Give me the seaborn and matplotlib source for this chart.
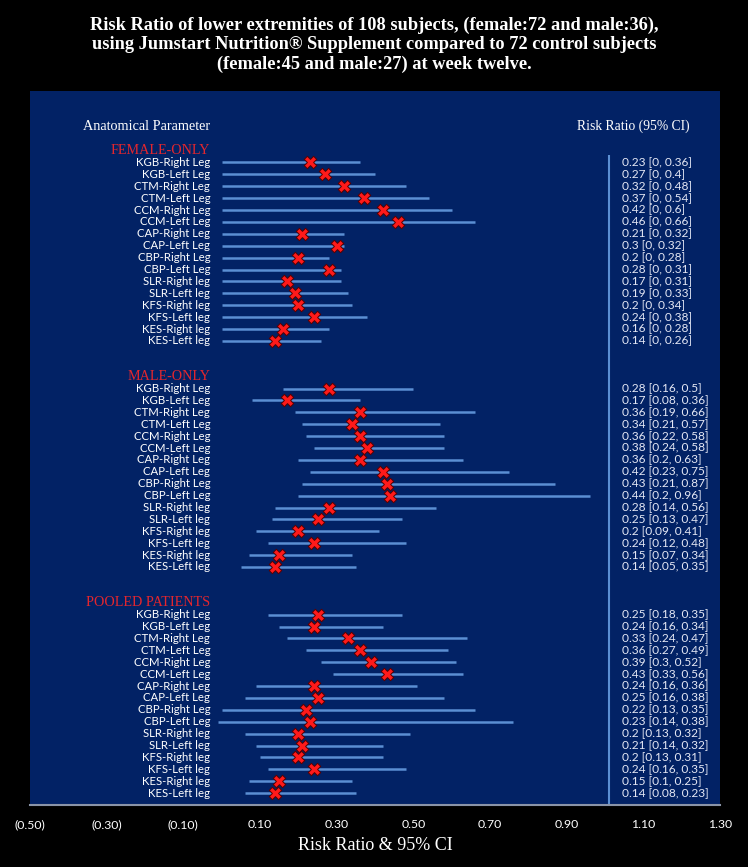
import numpy as np
import pandas as pd
import matplotlib
matplotlib.use("Agg")
import matplotlib.pyplot as plt
import seaborn as sns


# anatomical parameters, same order in each group
params = ["KGB-Right Leg", "KGB-Left Leg", "CTM-Right Leg", "CTM-Left Leg",
          "CCM-Right Leg", "CCM-Left Leg", "CAP-Right Leg", "CAP-Left Leg",
          "CBP-Right Leg", "CBP-Left Leg", "SLR-Right leg", "SLR-Left leg",
          "KFS-Right leg", "KFS-Left leg", "KES-Right leg", "KES-Left leg"]

groups = ["FEMALE-ONLY", "MALE-ONLY", "POOLED PATIENTS"]

female_rr = [0.23, 0.27, 0.32, 0.37, 0.42, 0.46, 0.21, 0.30,
             0.20, 0.28, 0.17, 0.19, 0.20, 0.24, 0.16, 0.14]
female_lo = [0, 0, 0, 0, 0, 0, 0, 0, 0, 0, 0, 0, 0, 0, 0, 0]
female_hi = [0.36, 0.40, 0.48, 0.54, 0.60, 0.66, 0.32, 0.32,
             0.28, 0.31, 0.31, 0.33, 0.34, 0.38, 0.28, 0.26]
female_txt = ["0.23 [0, 0.36]", "0.27 [0, 0.4]", "0.32 [0, 0.48]", "0.37 [0, 0.54]",
              "0.42 [0, 0.6]", "0.46 [0, 0.66]", "0.21 [0, 0.32]", "0.3 [0, 0.32]",
              "0.2 [0, 0.28]", "0.28 [0, 0.31]", "0.17 [0, 0.31]", "0.19 [0, 0.33]",
              "0.2 [0, 0.34]", "0.24 [0, 0.38]", "0.16 [0, 0.28]", "0.14 [0, 0.26]"]

male_rr = [0.28, 0.17, 0.36, 0.34, 0.36, 0.38, 0.36, 0.42,
           0.43, 0.44, 0.28, 0.25, 0.20, 0.24, 0.15, 0.14]
male_lo = [0.16, 0.08, 0.19, 0.21, 0.22, 0.24, 0.20, 0.23,
           0.21, 0.20, 0.14, 0.13, 0.09, 0.12, 0.07, 0.05]
male_hi = [0.50, 0.36, 0.66, 0.57, 0.58, 0.58, 0.63, 0.75,
           0.87, 0.96, 0.56, 0.47, 0.41, 0.48, 0.34, 0.35]
male_txt = ["0.28 [0.16, 0.5]", "0.17 [0.08, 0.36]", "0.36 [0.19, 0.66]", "0.34 [0.21, 0.57]",
            "0.36 [0.22, 0.58]", "0.38 [0.24, 0.58]", "0.36 [0.2, 0.63]", "0.42 [0.23, 0.75]",
            "0.43 [0.21, 0.87]", "0.44 [0.2, 0.96]", "0.28 [0.14, 0.56]", "0.25 [0.13, 0.47]",
            "0.2 [0.09, 0.41]", "0.24 [0.12, 0.48]", "0.15 [0.07, 0.34]", "0.14 [0.05, 0.35]"]

# pooled whiskers as drawn in the figure (wider than the printed CIs)
pooled_rr = [0.25, 0.24, 0.33, 0.36, 0.39, 0.43, 0.24, 0.25,
             0.22, 0.23, 0.20, 0.21, 0.20, 0.24, 0.15, 0.14]
pooled_lo = [0.12, 0.15, 0.17, 0.22, 0.26, 0.29, 0.09, 0.06,
             0.00, -0.01, 0.06, 0.09, 0.10, 0.12, 0.07, 0.06]
pooled_hi = [0.47, 0.42, 0.64, 0.59, 0.61, 0.63, 0.51, 0.58,
             0.66, 0.76, 0.49, 0.42, 0.42, 0.48, 0.34, 0.35]
pooled_txt = ["0.25 [0.18, 0.35]", "0.24 [0.16, 0.34]", "0.33 [0.24, 0.47]", "0.36 [0.27, 0.49]",
              "0.39 [0.3, 0.52]", "0.43 [0.33, 0.56]", "0.24 [0.16, 0.36]", "0.25 [0.16, 0.38]",
              "0.22 [0.13, 0.35]", "0.23 [0.14, 0.38]", "0.2 [0.13, 0.32]", "0.21 [0.14, 0.32]",
              "0.2 [0.13, 0.31]", "0.24 [0.16, 0.35]", "0.15 [0.1, 0.25]", "0.14 [0.08, 0.23]"]

xticks = [-0.5, -0.3, -0.1, 0.1, 0.3, 0.5, 0.7, 0.9, 1.1, 1.3]
xtick_labels = ["(0.50)", "(0.30)", "(0.10)", "0.10", "0.30", "0.50",
                "0.70", "0.90", "1.10", "1.30"]

ref_line = 1.01

# one long frame, row = vertical slot (header + 16 params + 2 blanks per group)
frames = []
for g, (rr, lo, hi, txt) in enumerate([(female_rr, female_lo, female_hi, female_txt),
                                        (male_rr, male_lo, male_hi, male_txt),
                                        (pooled_rr, pooled_lo, pooled_hi, pooled_txt)]):
    frames.append(pd.DataFrame({"group": groups[g], "param": params, "rr": rr,
                                "lo": lo, "hi": hi, "txt": txt,
                                "row": g * 19 + 1 + np.arange(len(params))}))
df = pd.concat(frames, ignore_index=True)

sns.set_theme(style="dark")
plt.rcParams["font.family"] = ["Lato", "DejaVu Sans"]

panel = "#022265"
line_col = "#5b8fd3"
txt_col = "#e4e7f4"

fig = plt.figure(figsize=(7.48, 8.67), dpi=100, facecolor="black")
ax = fig.add_axes([30 / 748, 1 - 805 / 867, 690 / 748, 714 / 867])
ax.set_facecolor(panel)

ax.hlines(df["row"], df["lo"], df["hi"], color=line_col, lw=1.8, zorder=2)
sns.scatterplot(data=df, x="rr", y="row", marker="X", s=80, color="#ff1a1a",
                edgecolor="#5a0000", linewidth=0.7, ax=ax, zorder=3, legend=False)

ax.vlines(ref_line, 0.4, 55, color=line_col, lw=1.5, zorder=1)

for _, r in df.iterrows():
    ax.text(-0.03, r["row"], r["param"], ha="right", va="center",
            color="white", fontsize=8.2)
    ax.text(1.045, r["row"], r["txt"], ha="left", va="center",
            color=txt_col, fontsize=8.6)

for g, name in enumerate(groups):
    ax.text(-0.03, g * 19, name, ha="right", va="center", color="#e3262e",
            fontsize=10.2, family="Liberation Serif")

ax.text(-0.03, -2, "Anatomical Parameter", ha="right", va="center",
        color="white", fontsize=10.3, family="Liberation Serif")
ax.text(1.22, -2, "Risk Ratio (95% CI)", ha="right", va="center",
        color="white", fontsize=9.8, family="Liberation Serif")

ax.set_xlim(-0.5, 1.3)
ax.set_ylim(55, -5)
ax.set_yticks([])
ax.set_xticks(xticks)
ax.set_xticklabels(xtick_labels, color="white", fontsize=8.8)
ax.tick_params(axis="x", length=0, pad=10)
ax.grid(False)
for side in ["top", "left", "right"]:
    ax.spines[side].set_visible(False)
ax.spines["bottom"].set_color("#8a94a8")
ax.spines["bottom"].set_linewidth(1.5)
ax.set_xlabel("Risk Ratio & 95% CI", color="white", fontsize=13,
              family="Liberation Serif", labelpad=5)
ax.set_ylabel("")

fig.text(0.5, 1 - 45 / 867,
         "Risk Ratio of lower extremities of 108 subjects, (female:72 and male:36),\n"
         "using Jumstart Nutrition\u00ae Supplement compared to 72 control subjects\n"
         "(female:45 and male:27) at week twelve.",
         ha="center", va="center", color="white", fontsize=13.2, fontweight="bold",
         family="Liberation Serif", linespacing=1.2)

fig.savefig("out.png", dpi=100, facecolor="black")
